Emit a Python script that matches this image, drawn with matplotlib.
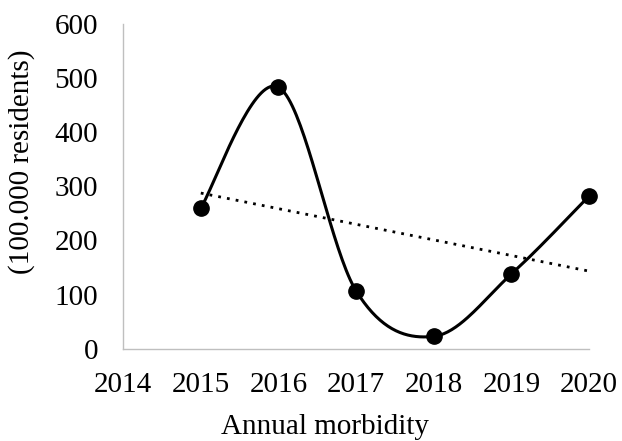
import numpy as np
import matplotlib
matplotlib.use("Agg")
import matplotlib.pyplot as plt

# Daten ------------------------------------------------------------------------
years = [2015, 2016, 2017, 2018, 2019, 2020]
morbidity = [260, 483, 107, 23, 138, 282]
x_ticks = [2014, 2015, 2016, 2017, 2018, 2019, 2020]
y_ticks = [0, 100, 200, 300, 400, 500, 600]


# geglättete Linie wie in Excel (Catmull-Rom -> Bezier)
def smooth_curve(xs, ys, n=40):
    p = np.column_stack([xs, ys]).astype(float)
    p = np.vstack([p[0], p, p[-1]])
    out = []
    for i in range(1, len(p) - 2):
        p0, p1, p2, p3 = p[i - 1], p[i], p[i + 1], p[i + 2]
        c1 = p1 + (p2 - p0) / 6
        c2 = p2 - (p3 - p1) / 6
        t = np.linspace(0, 1, n)[:, None]
        seg = ((1 - t) ** 3) * p1 + 3 * ((1 - t) ** 2) * t * c1 + 3 * (1 - t) * t ** 2 * c2 + t ** 3 * p2
        out.append(seg if i == 1 else seg[1:])
    out = np.vstack(out)
    return out[:, 0], out[:, 1]


plt.rcParams['font.family'] = ['Liberation Serif', 'DejaVu Serif']

fig = plt.figure(figsize=(6.22, 4.41), dpi=100)
ax = fig.add_axes([0.198, 0.209, 0.749, 0.737])

sx, sy = smooth_curve(years, morbidity)
ax.plot(sx, sy, color='black', lw=2.2, zorder=3)
ax.plot(years, morbidity, 'o', color='black', ms=11, zorder=4)

# lineare Trendlinie
k, d = np.polyfit(years, morbidity, 1)
tx = np.array([years[0], years[-1]])
ax.plot(tx, k * tx + d, color='black', lw=2, linestyle=(0, (1, 2.2)), zorder=2)

ax.set_xlim(2014, 2020)
ax.set_ylim(0, 600)
ax.set_xticks(x_ticks)
ax.set_yticks(y_ticks)
ax.tick_params(length=0, labelsize=21)
ax.tick_params(axis='x', pad=17)
ax.tick_params(axis='y', pad=18)

for s in ['top', 'right']:
    ax.spines[s].set_visible(False)
for s in ['left', 'bottom']:
    ax.spines[s].set_color('#BFBFBF')
    ax.spines[s].set_linewidth(1)

ax.set_xlabel('Annual morbidity', fontsize=21)
ax.set_ylabel('(100.000 residents)', fontsize=21)
ax.xaxis.set_label_coords(0.433, -0.2)
ax.yaxis.set_label_coords(-0.19, 0.575)
for line in ax.lines:
    line.set_clip_on(False)

fig.savefig('out.png', dpi=100)
